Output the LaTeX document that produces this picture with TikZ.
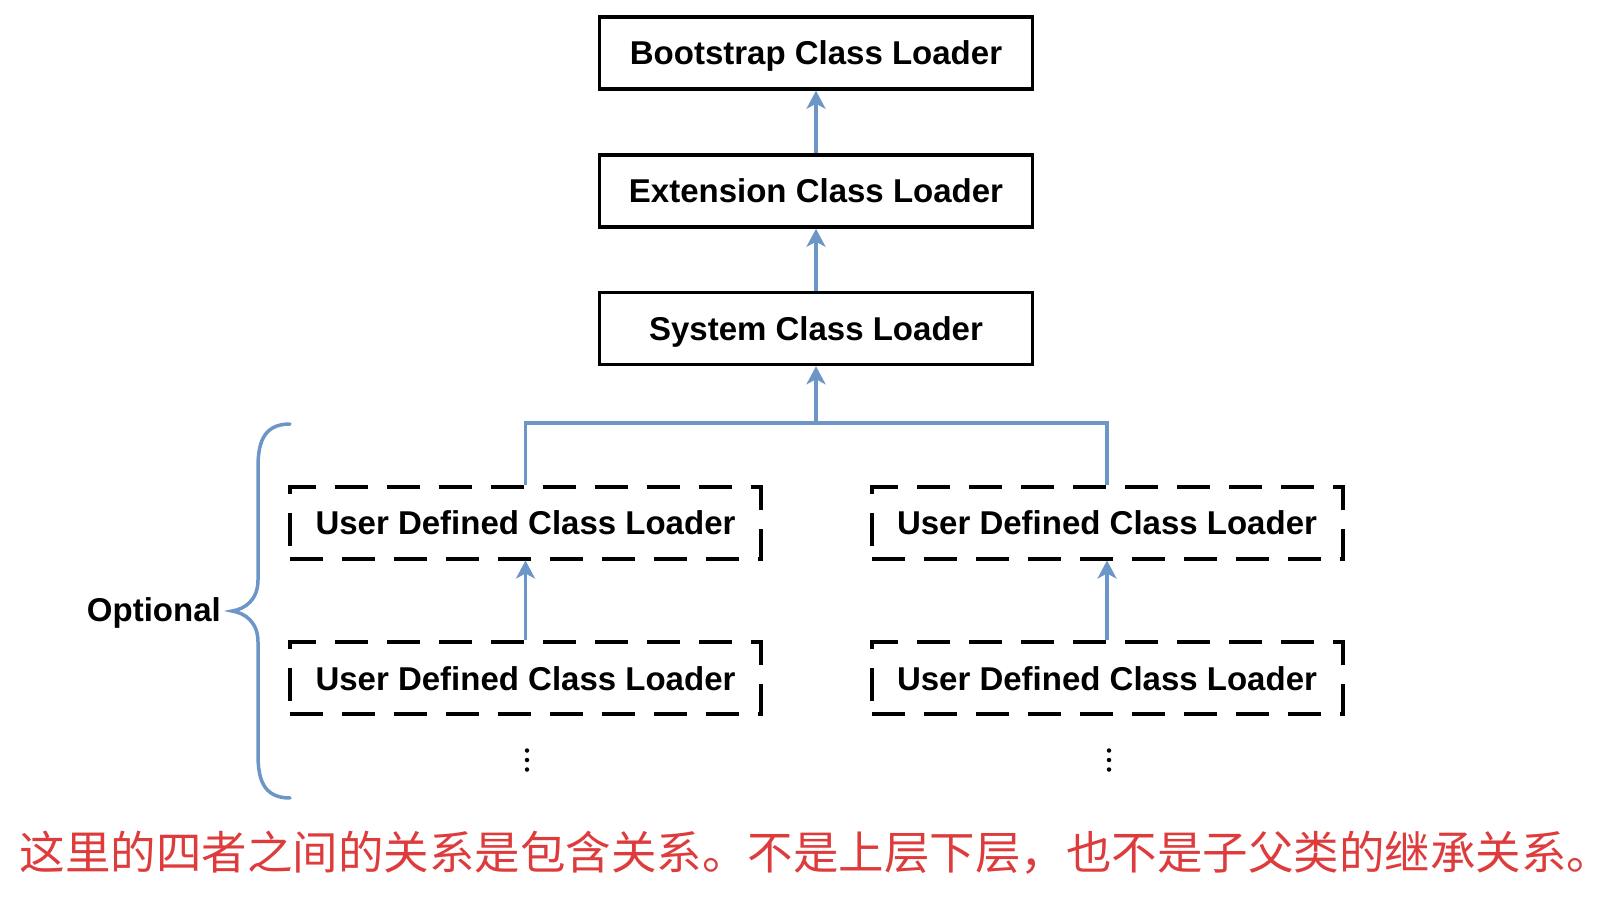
\documentclass[tikz,border=0pt]{standalone}
\usepackage{fontspec}
\setmainfont{Liberation Sans}
\newfontfamily\cjk{Noto Sans CJK SC}
\usetikzlibrary{arrows.meta}
\definecolor{linkblue}{RGB}{108,150,200}
\definecolor{notered}{RGB}{222,60,60}
\tikzset{
  loaderbox/.style={draw=black, line width=3.5pt, minimum width=433pt, minimum height=72pt,
    inner sep=0pt, text height=24pt, text depth=0pt, font=\fontsize{33}{40}\selectfont\bfseries},
  userbox/.style={draw=black, line width=4pt, dash pattern=on 33pt off 19pt, minimum width=471pt,
    minimum height=72pt, inner sep=0pt, text height=24pt, text depth=0pt, font=\fontsize{33}{40}\selectfont\bfseries},
  link/.style={draw=linkblue, line width=3.5pt},
  uparrow/.style={link, -{Stealth[length=18pt,width=19pt,inset=5pt]}},
  dotnode/.style={circle, fill=black, inner sep=0pt, minimum size=4.5pt},
}
\begin{document}
\begin{tikzpicture}[x=1pt,y=-1pt]
\useasboundingbox[fill=white] (0,0) rectangle (1610,904);
\node[loaderbox] (boot) at (816,53) {Bootstrap Class Loader};
\node[loaderbox] (ext) at (816,191) {Extension Class Loader};
\node[loaderbox] (sys) at (816,328.5) {System Class Loader};
\node[userbox] (u1) at (525.5,522.5) {User Defined Class Loader};
\node[userbox] (u2) at (1107,522.5) {User Defined Class Loader};
\node[userbox] (u3) at (525.5,678) {User Defined Class Loader};
\node[userbox] (u4) at (1107,678) {User Defined Class Loader};
\coordinate (bus) at (816,423);
\draw[uparrow] (ext.north) -- (boot.south);
\draw[uparrow] (sys.north) -- (ext.south);
\draw[link] (u1.north) |- (bus);
\draw[link] (u2.north) |- (bus);
\draw[uparrow] (bus) -- (sys.south);
\draw[uparrow] (u3.north) -- (u1.south);
\draw[uparrow] (u4.north) -- (u2.south);
\node[dotnode] (d1a) at (527,750.5) {};
\node[dotnode] (d1b) at (527,760) {};
\node[dotnode] (d1c) at (527,769.5) {};
\node[dotnode] (d2a) at (1109,750.5) {};
\node[dotnode] (d2b) at (1109,760) {};
\node[dotnode] (d2c) at (1109,769.5) {};
\coordinate (bracetop) at (290,424);
\coordinate (bracetip) at (232,611);
\coordinate (bracebot) at (290,798);
\draw[link, line cap=round] (bracetop) .. controls (262,424) and (258,445) .. (258,468)
  -- (258,580) .. controls (258,600) and (245,609) .. (bracetip)
  .. controls (245,613) and (258,622) .. (258,642)
  -- (258,754) .. controls (258,777) and (262,798) .. (bracebot);
\node[anchor=east, inner sep=0pt, text height=24pt, text depth=0pt, font=\fontsize{33}{40}\selectfont\bfseries] (opt) at (221,609) {Optional};
\node[inner sep=0pt, text=notered, font=\cjk\fontsize{45.5}{50}\selectfont] (note) at (816,853)
  {这里的四者之间的关系是包含关系。不是上层下层，也不是子父类的继承关系。};
\end{tikzpicture}
\end{document}
